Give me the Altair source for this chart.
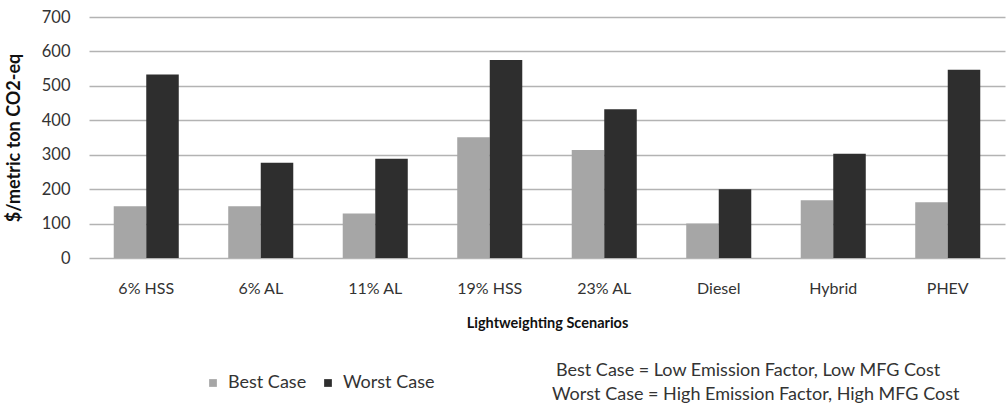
import altair as alt
import pandas as pd

scenarios = ["6% HSS", "6% AL", "11% AL", "19% HSS", "23% AL", "Diesel", "Hybrid", "PHEV"]
cases = ["Best Case", "Worst Case"]
best_case = [150, 150, 129, 351, 314, 100, 168, 162]
worst_case = [533, 277, 288, 575, 432, 200, 303, 547]
y_ticks = [0, 100, 200, 300, 400, 500, 600, 700]
notes = [
    "Best Case = Low Emission Factor, Low MFG Cost",
    "Worst Case = High Emission Factor, High MFG Cost",
]

rows = []
for s, b, w in zip(scenarios, best_case, worst_case):
    rows.append({"scenario": s, "case": cases[0], "value": b})
    rows.append({"scenario": s, "case": cases[1], "value": w})
df = pd.DataFrame(rows)

FONT = "Lato"
TXT = "#333333"

bars = alt.Chart(df).mark_bar().encode(
    x=alt.X(
        "scenario:N",
        sort=scenarios,
        scale=alt.Scale(paddingInner=0.432, paddingOuter=0.216),
        axis=alt.Axis(
            title="Lightweighting Scenarios",
            labelAngle=0,
            labelFont=FONT,
            labelFontSize=16,
            labelColor=TXT,
            labelPadding=22,
            ticks=False,
            tickSize=0,
            domain=False,
            titleFont=FONT,
            titleFontSize=14.5,
            titleFontWeight="bold",
            titleColor="#111111",
            titleY=58,
        ),
    ),
    xOffset=alt.XOffset("case:N", sort=cases, scale=alt.Scale(paddingInner=0, paddingOuter=0)),
    y=alt.Y(
        "value:Q",
        scale=alt.Scale(domain=[0, 700], nice=False),
        axis=alt.Axis(
            title="$/metric ton CO2-eq",
            values=y_ticks,
            labelFont=FONT,
            labelFontSize=16.5,
            labelColor=TXT,
            labelPadding=19,
            ticks=False,
            tickSize=0,
            domain=False,
            grid=True,
            gridColor="#b3b3b3",
            gridWidth=1.6,
            titleFont=FONT,
            titleFontSize=18,
            titleFontWeight="bold",
            titleColor="#111111",
            titleX=-66,
        ),
    ),
    color=alt.Color(
        "case:N",
        sort=cases,
        scale=alt.Scale(domain=cases, range=["#a6a6a6", "#2e2e2e"]),
        legend=alt.Legend(
            title=None,
            orient="none",
            direction="horizontal",
            legendX=115,
            legendY=357,
            symbolType="square",
            symbolSize=60,
            symbolStrokeWidth=0,
            labelFont=FONT,
            labelFontSize=18,
            labelColor=TXT,
            labelOffset=6,
            columnPadding=12,
            padding=0,
        ),
    ),
)

layers = [bars]
for i, note in enumerate(notes):
    layers.append(
        alt.Chart(pd.DataFrame({"t": [note]}))
        .mark_text(align="left", baseline="middle", font=FONT, fontSize=18, color=TXT)
        .encode(text="t:N", x=alt.value(467 - 4 * i), y=alt.value(354 + 24 * i))
    )

chart = (
    alt.layer(*layers)
    .properties(
        width=916,
        height=241,
        autosize=alt.AutoSizeParams(type="none"),
        padding={"left": 89, "top": 17, "right": 3, "bottom": 148},
        background="white",
    )
    .configure_view(stroke=None)
)

chart.save("out.html", embed_options={"renderer": "svg", "actions": False})
